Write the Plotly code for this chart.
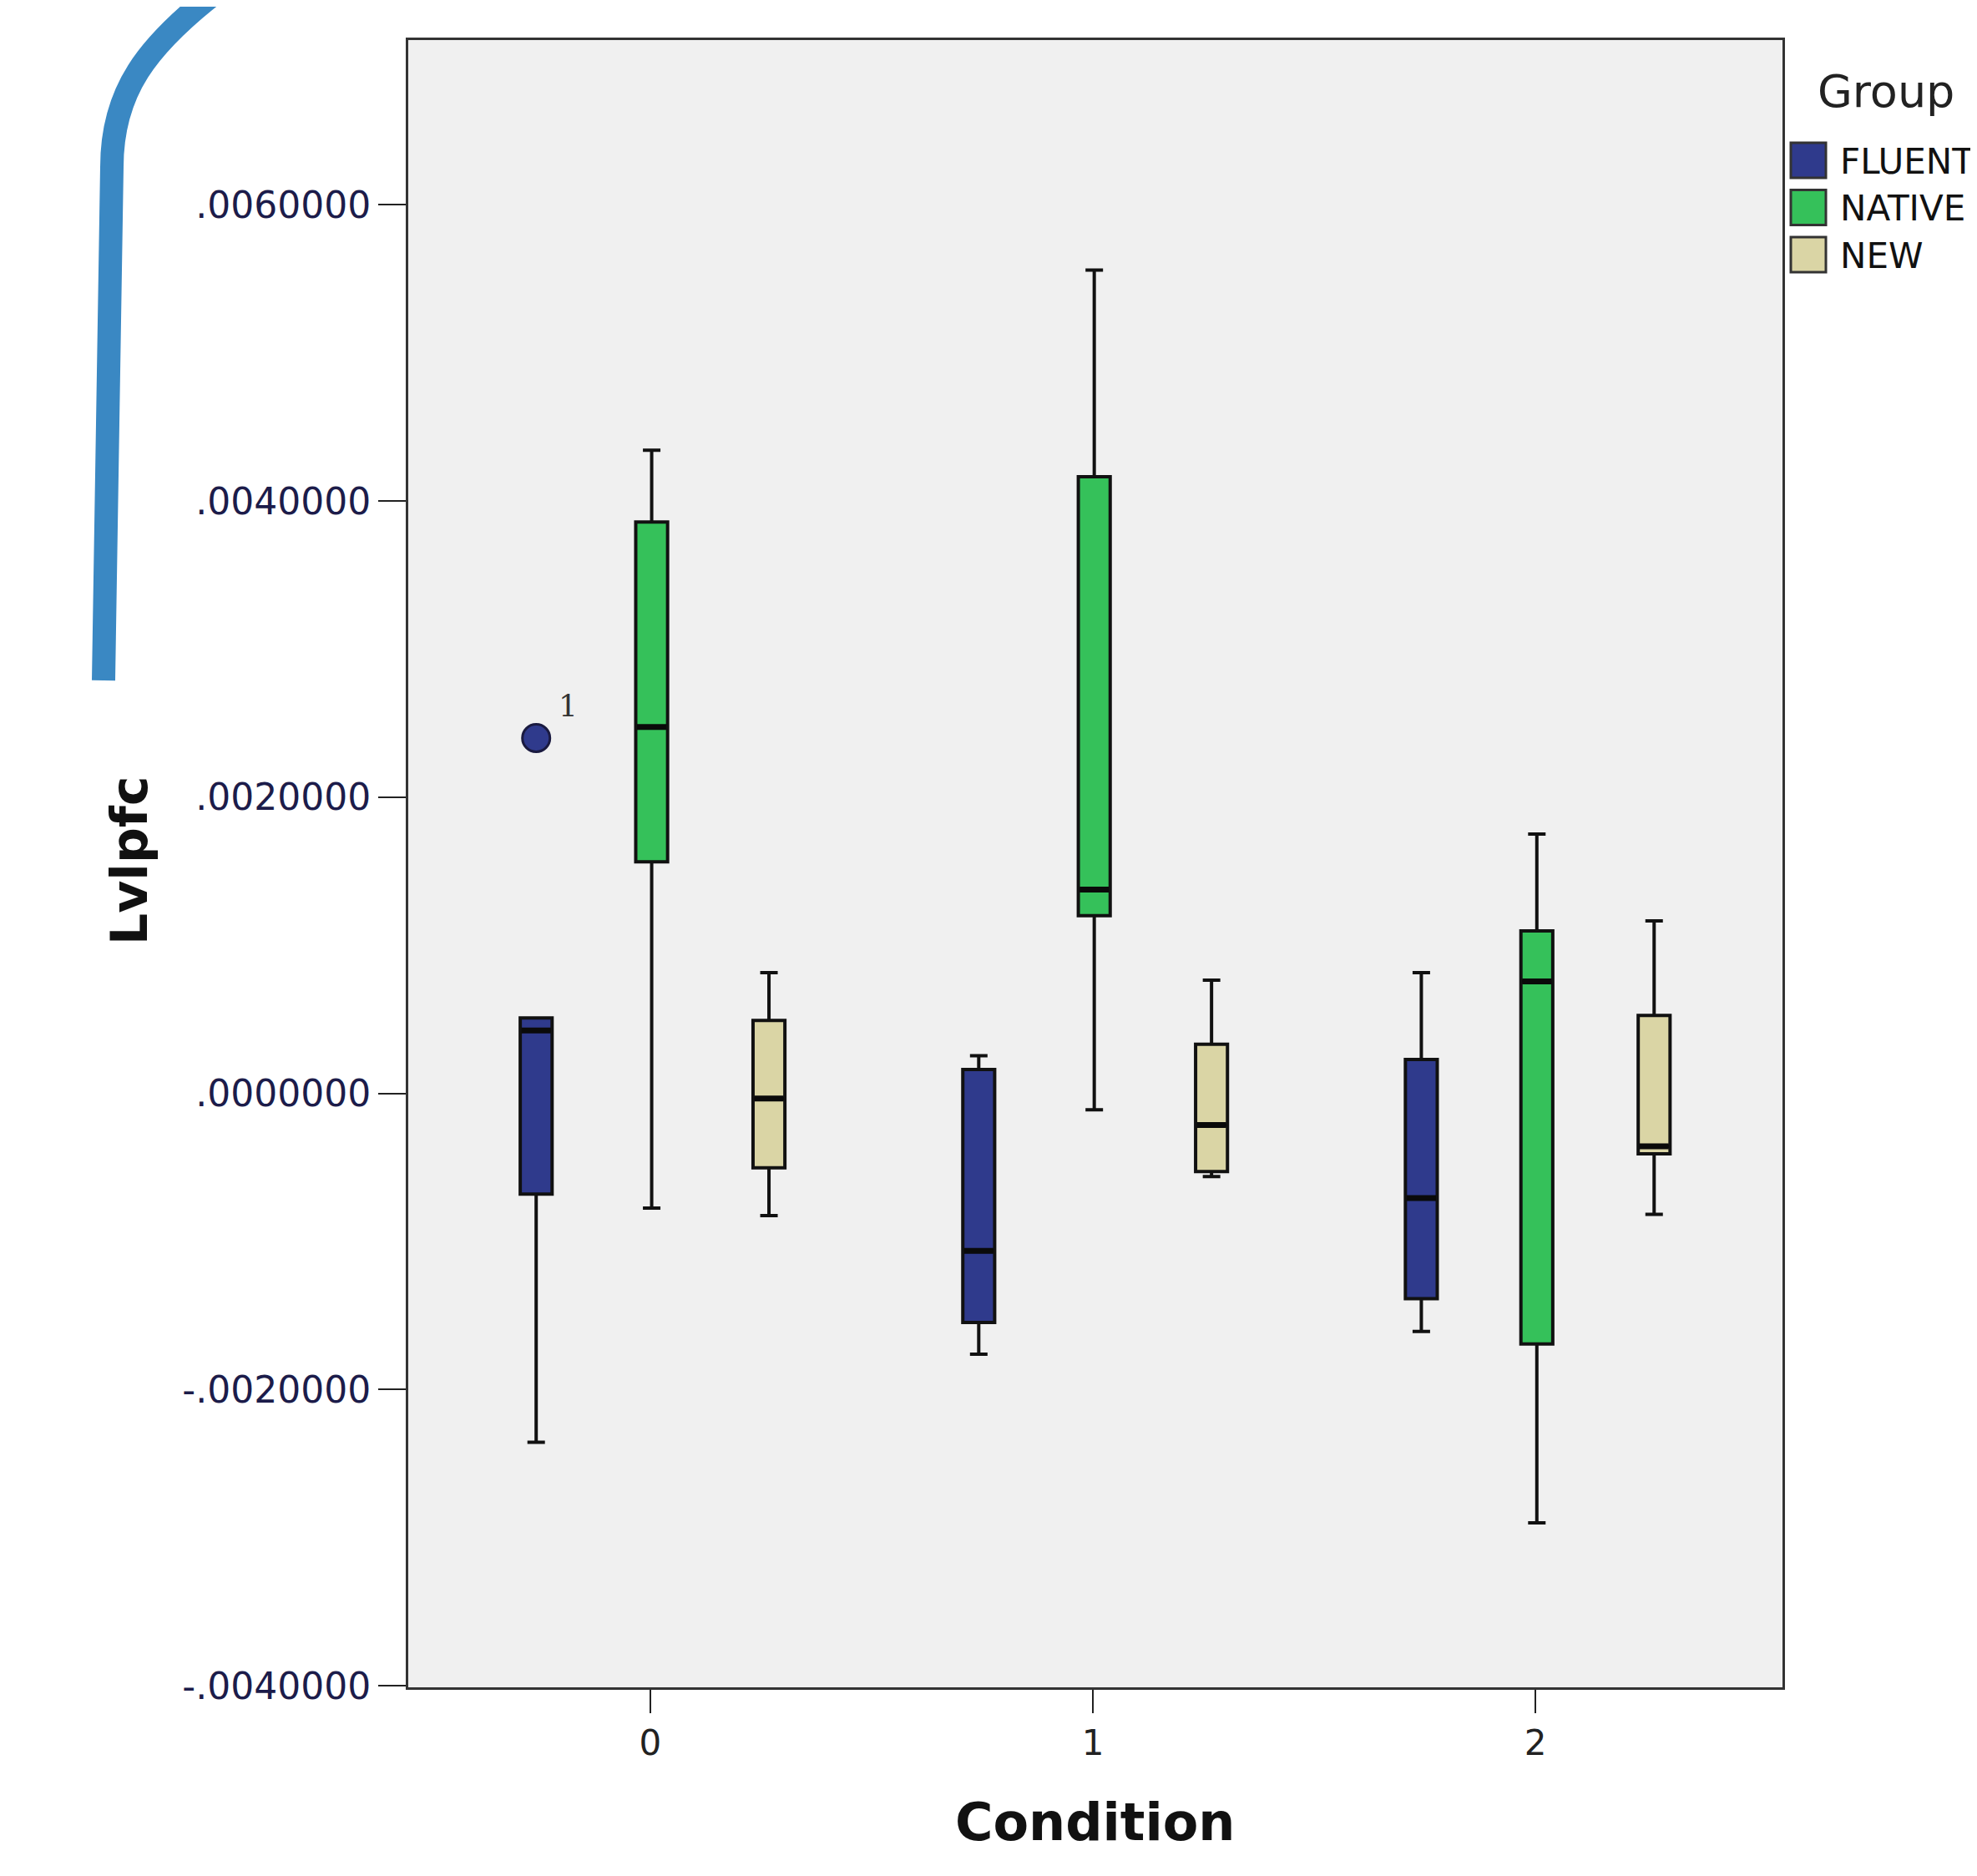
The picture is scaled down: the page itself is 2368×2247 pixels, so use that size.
import plotly.graph_objects as go

# ---------------- data ----------------
conditions = [0, 1, 2]
groups = ["FLUENT", "NATIVE", "NEW"]

fluent_lower = [-0.002355, -0.00176, -0.001607]
fluent_q1 = [-0.00068, -0.001547, -0.001386]
fluent_median = [0.000425, -0.001063, -0.000706]
fluent_q3 = [0.00051, 0.000162, 0.00023]
fluent_upper = [0.00051, 0.000255, 0.000816]

native_lower = [-0.000774, -0.00011, -0.0029]
native_q1 = [0.001564, 0.0012, -0.001692]
native_median = [0.002474, 0.001377, 0.000757]
native_q3 = [0.003859, 0.004165, 0.001097]
native_upper = [0.004343, 0.00556, 0.001751]

new_lower = [-0.000825, -0.000561, -0.000816]
new_q1 = [-0.000502, -0.000527, -0.000408]
new_median = [-0.000034, -0.000213, -0.000357]
new_q3 = [0.000493, 0.000332, 0.000527]
new_upper = [0.000816, 0.000765, 0.001165]

outlier_condition = [0]
outlier_group = ["FLUENT"]
outlier_value = [0.0024]
outlier_label = ["1"]

y_ticks = [-0.004, -0.002, 0.0, 0.002, 0.004, 0.006]
x_ticks = [0, 1, 2]

# ---------------- styling ----------------
colors = {"FLUENT": "#2f3a8c", "NATIVE": "#35c15a", "NEW": "#dad5a5"}
offsets = {"FLUENT": -0.258, "NATIVE": 0.003, "NEW": 0.268}
BOX_W = 0.072
stats = {
    "FLUENT": (fluent_lower, fluent_q1, fluent_median, fluent_q3, fluent_upper),
    "NATIVE": (native_lower, native_q1, native_median, native_q3, native_upper),
    "NEW": (new_lower, new_q1, new_median, new_q3, new_upper),
}

fig = go.Figure()
for g in groups:
    lo, q1, med, q3, hi = stats[g]
    xs = [c + offsets[g] for c in conditions]
    fig.add_trace(go.Box(
        x=xs,
        lowerfence=lo, q1=q1, median=med, q3=q3, upperfence=hi,
        name=g, fillcolor=colors[g],
        line=dict(color="#111111", width=4),
        width=BOX_W, whiskerwidth=0.55,
        boxpoints=False, showlegend=False, hoverinfo="skip",
    ))
    # thicker median bars (SPSS style)
    mx, my = [], []
    for x, m in zip(xs, med):
        mx += [x - BOX_W / 2 * 0.92, x + BOX_W / 2 * 0.92, None]
        my += [m, m, None]
    fig.add_trace(go.Scatter(x=mx, y=my, mode="lines",
                             line=dict(color="#0a0a0a", width=7),
                             showlegend=False, hoverinfo="skip"))

fig.add_trace(go.Scatter(
    x=[c + offsets[g] for c, g in zip(outlier_condition, outlier_group)],
    y=outlier_value, mode="markers",
    marker=dict(size=33, color=colors["FLUENT"], line=dict(color="#1a1a40", width=3)),
    showlegend=False,
))
for c, g, v, lab in zip(outlier_condition, outlier_group, outlier_value, outlier_label):
    fig.add_annotation(x=c + offsets[g], y=v, text=lab, showarrow=False,
                       xshift=38, yshift=38, font=dict(size=36, color="#333333",
                                                        family="DejaVu Serif"))

def fmt(v):
    s = f"{v:.7f}"
    if s.startswith("-0."):
        return "-" + s[2:]
    if s.startswith("0."):
        return s[1:]
    return s

PAGE = 8  # browser body margin
W, H = 2368 - PAGE, 2247 - PAGE
# plot-area edges measured in the reference image
RL, RR, RT, RB = 489, 2135, 48, 2021
L, R, T, B = RL - PAGE, RR - PAGE, RT - PAGE, RB - PAGE

fig.update_layout(
    width=W, height=H,
    margin=dict(l=L, r=W - R, t=T, b=H - B, autoexpand=False),
    paper_bgcolor="white", plot_bgcolor="#f0f0f0",
    font=dict(family="DejaVu Sans", color="#111111"),
    xaxis=dict(range=[-0.547, 2.558], tickvals=x_ticks, ticktext=[str(t) for t in x_ticks],
               ticks="outside", ticklen=28, tickwidth=2, tickcolor="#222222",
               tickfont=dict(size=42, color="#222222"),
               showgrid=False, zeroline=False, showline=True, linecolor="#333333",
               linewidth=3, mirror=True),
    yaxis=dict(range=[-0.00401, 0.007113], tickvals=y_ticks, ticktext=[fmt(v) for v in y_ticks],
               ticks="outside", ticklen=33, tickwidth=2, tickcolor="#222222",
               tickfont=dict(size=44, color="#1c1c4a"),
               showgrid=False, zeroline=False, showline=True, linecolor="#333333",
               linewidth=3, mirror=True),
)

def px(X):
    return (X - RL) / (RR - RL)

def py(Y):
    return 1 - (Y - RT) / (RB - RT)

# axis titles
fig.add_annotation(x=0.5, y=0, xref="paper", yref="paper", yanchor="middle",
                   yshift=-(2182 - RB), text="<b>Condition</b>", showarrow=False,
                   font=dict(size=62, color="#111111", family="DejaVu Sans"))
fig.add_annotation(x=px(118), y=py(1031), xref="paper", yref="paper", textangle=-90,
                   text="<b>Lvlpfc</b>", showarrow=False,
                   font=dict(size=60, color="#111111", family="DejaVu Sans"))

# legend (custom, to match large swatches)
fig.add_annotation(x=px(2175), y=py(109), xref="paper", yref="paper", xanchor="left",
                   yanchor="middle", text="Group", showarrow=False,
                   font=dict(size=54, color="#222222"))
for i, g in enumerate(groups):
    top = 171 + i * 56.5
    fig.add_shape(type="rect", xref="paper", yref="paper",
                  x0=px(2145), x1=px(2187), y0=py(top), y1=py(top + 42),
                  fillcolor=colors[g], line=dict(color="#333333", width=3))
    fig.add_annotation(x=px(2202), y=py(top + 22), xref="paper", yref="paper",
                       xanchor="left", yanchor="middle", text=g, showarrow=False,
                       font=dict(size=42, color="#111111"))

# hand-drawn blue bracket stroke
path = (f"M {px(262)},{py(-12)} C {px(175)},{py(55)} {px(134)},{py(110)} {px(134)},{py(200)} "
        f"L {px(124)},{py(815)}")
fig.add_shape(type="path", xref="paper", yref="paper", path=path,
              line=dict(color="#3a88c3", width=28))

fig.write_html("out.html")
